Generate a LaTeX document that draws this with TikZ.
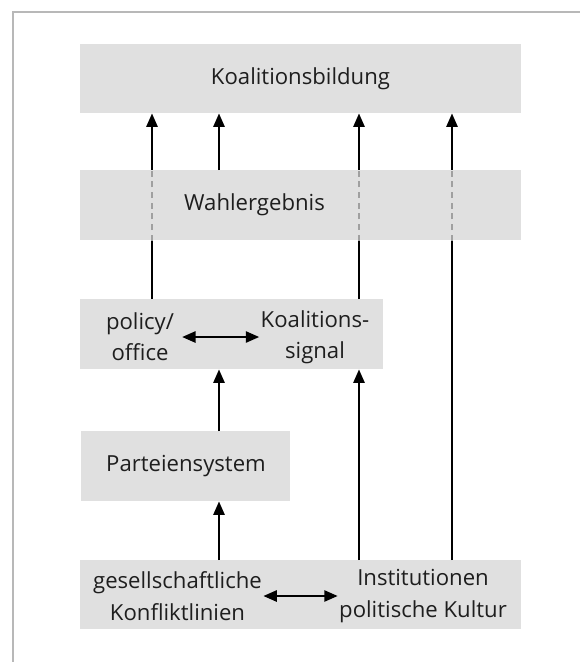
\documentclass[tikz,border=0pt]{standalone}
\usepackage{fontspec}
\setmainfont{Open Sans}
\usetikzlibrary{arrows.meta}
\definecolor{boxgray}{HTML}{E0E0E0}
\definecolor{framegray}{HTML}{B8B8B8}
\definecolor{dashgray}{HTML}{A0A0A0}
\definecolor{txt}{HTML}{1E1E1E}
\begin{document}
\begin{tikzpicture}[x=0.75pt,y=-0.75pt,
  box/.style={fill=boxgray,draw=none,inner sep=0pt,anchor=north west},
  lbl/.style={inner sep=0pt,align=center,text=txt,font=\fontsize{16.6}{23.5}\selectfont},
  arr/.style={line width=1.2pt,-{Triangle[length=10pt,width=8.5pt]}},
  dbl/.style={line width=1.2pt,{Triangle[length=10pt,width=8.5pt]}-{Triangle[length=10pt,width=8.5pt]}},
  dsh/.style={line width=1.2pt,dashgray,dash pattern=on 4.5pt off 3.5pt}]
\useasboundingbox (0,0) rectangle (580,662);
% frame
\draw[framegray,line width=1.2pt] (13,662) -- (13,12) -- (580,12);
% column coordinates
\coordinate (c1) at (152,0);
\coordinate (c2) at (219,0);
\coordinate (c3) at (359,0);
\coordinate (c4) at (452,0);
% boxes
\node[box,minimum width=441*0.75pt,minimum height=69*0.75pt] (K) at (80,44) {};
\node[box,minimum width=303*0.75pt,minimum height=70*0.75pt] (PO) at (80,299) {};
\node[box,minimum width=209*0.75pt,minimum height=70*0.75pt] (PS) at (81,431) {};
\node[box,minimum width=441*0.75pt,minimum height=69*0.75pt] (B) at (80,560) {};
% labels
\node[lbl] (tK) at (300.5,79) {Koalitionsbildung};
\node[lbl] (pol) at (140,337) {policy/\\office};
\node[lbl] (ks) at (315,337) {Koalitions-\\signal};
\node[lbl] (tPS) at (186,466) {Parteiensystem};
\node[lbl] (ges) at (177.5,596) {gesellschaftliche\\Konfliktlinien};
\node[lbl] (inst) at (423,596) {Institutionen\\politische Kultur};
% arrows through Wahlergebnis
\draw[arr] (PO.north -| c1) -- (K.south -| c1);
\draw[arr] (PO.north -| c3) -- (K.south -| c3);
\draw[arr] (B.north -| c4) -- (K.south -| c4);
% Wahlergebnis box on top
\node[box,minimum width=441*0.75pt,minimum height=70*0.75pt] (W) at (80,170) {};
\node[lbl] (tW) at (254.5,205) {Wahlergebnis};
\draw[arr] (W.north -| c2) -- (K.south -| c2);
\draw[dsh] (W.south -| c1) -- (W.north -| c1);
\draw[dsh] (W.south -| c3) -- (W.north -| c3);
\draw[dsh] (W.south -| c4) -- (W.north -| c4);
% lower arrows
\draw[arr] (PS.north -| c2) -- (PO.south -| c2);
\draw[arr] (B.north -| c2) -- (PS.south -| c2);
\draw[arr] (B.north -| c3) -- (PO.south -| c3);
% double arrows
\draw[dbl] ([xshift=6]pol.east) -- ([xshift=-1]ks.west);
\draw[dbl] ([xshift=1]ges.east) -- ([xshift=-1]inst.west);
\end{tikzpicture}
\end{document}
